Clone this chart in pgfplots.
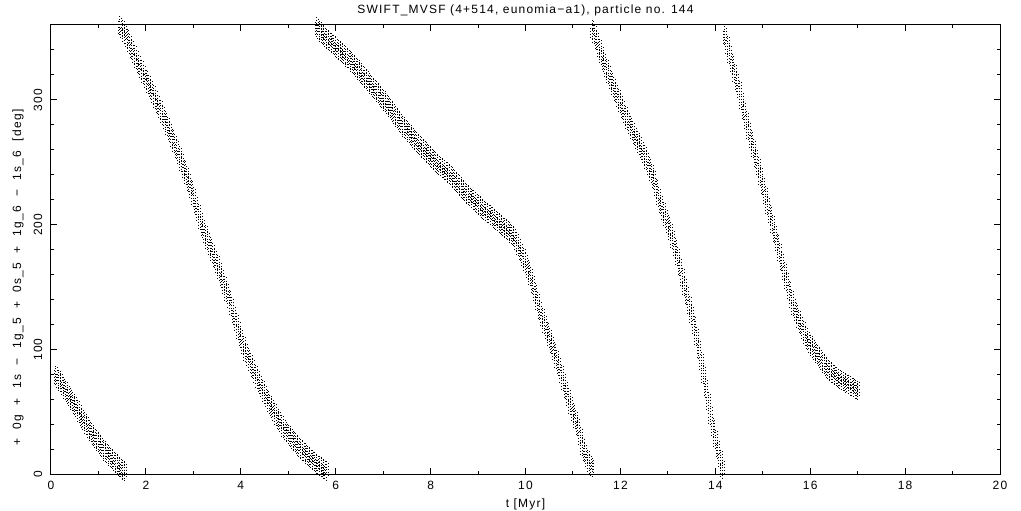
\documentclass[border=0pt]{standalone}
\usepackage{fontspec}
\setmainfont{Liberation Sans}[LetterSpace=10]
\newfontfamily\ylabfont{Liberation Sans}[LetterSpace=10, WordSpace=2.1]
\usepackage{pgfplots}
\usepackage{pgfplotstable}
\pgfplotsset{compat=1.18}

\pgfplotstableread{
x y
0.1 79
0.15 76
0.2 73.5
0.25 70
0.3 67
0.35 64
0.4 61
0.45 58
0.5 55
0.55 52
0.6 48.5
0.65 45
0.7 42
0.75 39
0.8 35.5
0.85 33
0.9 30
0.95 27.5
1.0 25
1.05 22.5
1.1 20
1.15 17.5
1.2 15.5
1.25 13.5
1.3 11.5
1.35 9.5
1.4 7.5
1.45 5.5
1.5 4
1.55 2
}\segA

\pgfplotstableread{
x y
1.4 362
1.45 359
1.5 356
1.55 352.5
1.6 349
1.65 344.5
1.7 340
1.75 336
1.8 332
1.85 328
1.9 324
1.95 320
2.0 316
2.05 312
2.1 308.5
2.15 304
2.2 300
2.25 296
2.3 292
2.35 287.5
2.4 283
2.45 278.5
2.5 274
2.55 269
2.6 264.5
2.65 260
2.7 255
2.75 249.5
2.8 244
2.85 239
2.9 233.5
2.95 228
3.0 222
3.05 215.5
3.1 209
3.15 203
3.2 197
3.25 192
3.3 187
3.35 182
3.4 177
3.45 172.5
3.5 168
3.55 162.5
3.6 157
3.65 151
3.7 145.5
3.75 140
3.8 134
3.85 127.5
3.9 121
3.95 115
4.0 109
4.05 103
4.1 97.5
4.15 93
4.2 89
4.25 84.5
4.3 80
4.35 76
4.4 72
4.45 68
4.5 64
4.55 60
4.6 56
4.65 53
4.7 49.5
4.75 46
4.8 43
4.85 40
4.9 36.5
4.95 34
5.0 32
5.05 29.5
5.1 27
5.15 25
5.2 22.5
5.25 20.5
5.3 18.5
5.35 17
5.4 15
5.45 13
5.5 11.5
5.55 10
5.6 8
5.65 7
5.7 5.5
5.75 4
5.8 2.5
}\segB

\pgfplotstableread{
x y
5.6 358
5.65 355.5
5.7 353
5.75 351
5.8 349
5.85 347
5.9 345.5
5.95 344
6.0 342
6.05 340
6.1 338.5
6.15 337
6.2 335
6.25 333
6.3 331.5
6.35 329
6.4 327
6.45 325
6.5 322.5
6.55 320
6.6 318
6.65 316
6.7 313.5
6.75 311
6.8 309
6.85 307
6.9 304.5
6.95 302
7.0 300
7.05 297.5
7.1 295
7.15 292.5
7.2 290
7.25 287
7.3 284.5
7.35 282
7.4 279.5
7.45 277
7.5 275
7.55 273
7.6 270.5
7.65 268
7.7 266
7.75 264
7.8 262
7.85 260
7.9 258
7.95 256
8.0 254
8.05 252
8.1 250
8.15 248
8.2 246.5
8.25 245
8.3 243.5
8.35 242
8.4 240
8.45 238
8.5 235.5
8.55 233.5
8.6 231.5
8.65 229
8.7 227
8.75 225
8.8 223
8.85 221
8.9 219.5
8.95 218
9.0 216
9.05 214
9.1 212
9.15 210.5
9.2 209
9.25 207.5
9.3 206
9.35 204
9.4 202.5
9.45 201
9.5 199
9.55 197.5
9.6 196
9.65 194
9.7 192
9.75 190
9.8 186
9.85 182
9.9 178
9.95 173.5
10.0 169
10.05 163.5
10.1 158
10.15 152
10.2 145
10.25 138
10.3 131
10.35 125.5
10.4 120
10.45 114.5
10.5 109
10.55 103.5
10.6 98
10.65 92
10.7 86.5
10.75 80
10.8 74
10.85 67.5
10.9 61
10.95 55
11.0 49
11.05 43.5
11.1 38
11.15 30
11.2 22
11.25 17
11.3 12
11.35 8
11.4 5
}\segC

\pgfplotstableread{
x y
11.35 362
11.4 356
11.45 352
11.5 347
11.55 341
11.6 335.5
11.65 330
11.7 325
11.75 320
11.8 315
11.85 310
11.9 305.5
11.95 301
12.0 296.5
12.05 292
12.1 287.5
12.15 283
12.2 279
12.25 275
12.3 271
12.35 267
12.4 263.5
12.45 259.5
12.5 255.5
12.55 251
12.6 246
12.65 241
12.7 236
12.75 229
12.8 222
12.85 216
12.9 210.5
12.95 205
13.0 199.5
13.05 194
13.1 188
13.15 181
13.2 174
13.25 166
13.3 157.5
13.35 150
13.4 143
13.45 135
13.5 127.5
13.55 119
13.6 110
13.65 100
13.7 90
13.75 79.5
13.8 69
13.85 58
13.9 47
13.95 37
14.0 28
14.05 20
14.1 12
14.15 4
}\segD

\pgfplotstableread{
x y
14.15 362
14.2 351
14.25 343.5
14.3 336
14.35 328.5
14.4 321
14.45 314
14.5 307.5
14.55 299
14.6 291
14.65 283
14.7 275
14.75 267.5
14.8 260.5
14.85 253
14.9 246
14.95 238.5
15.0 231
15.05 223
15.1 215
15.15 207.5
15.2 200
15.25 192.5
15.3 185
15.35 177.5
15.4 170
15.45 162
15.5 154.5
15.55 147
15.6 140
15.65 134
15.7 129
15.75 124
15.8 119.5
15.85 115
15.9 110.5
15.95 107
16.0 104
16.05 101
16.1 98
16.15 95.5
16.2 93
16.25 90
16.3 87.5
16.35 85
16.4 83
16.45 81
16.5 79.5
16.55 78
16.6 76.5
16.65 75
16.7 74
16.75 73
16.8 72
16.85 70.5
16.9 69.5
16.95 68
17.0 67
}\segE

\newcommand{\plotseg}[1]{%
  \addplot[only marks, mark=|, mark size=10pt, black, line width=0.7pt,
    mark options={dash pattern=on 0.9pt off 1.7pt}] table[x=x,y=y] {#1};
  \addplot[only marks, mark=|, mark size=7pt, black, line width=0.6pt,
    mark options={xshift=1.8pt, yshift=1.5pt, dash pattern=on 0.9pt off 2.2pt}] table[x=x,y=y] {#1};
  \addplot[only marks, mark=|, mark size=7pt, black, line width=0.6pt,
    mark options={xshift=-1.8pt, yshift=-1.5pt, dash pattern=on 0.9pt off 2.2pt}] table[x=x,y=y] {#1};
}

\begin{document}
\begin{tikzpicture}
\useasboundingbox (0,0) rectangle (1021pt,511pt);
\begin{axis}[
  at={(51pt,36.5pt)}, anchor=south west,
  scale only axis, width=949pt, height=449.5pt,
  xmin=0, xmax=20, ymin=0, ymax=360,
  axis line style={line width=1pt},
  tick align=inside,
  tick style={line width=1pt, black},
  major tick length=6pt, minor tick length=3pt,
  xtick={0,2,...,20}, minor xtick={1,3,...,19},
  ytick={0,100,200,300}, minor ytick={20,40,60,80,120,140,160,180,220,240,260,280,320,340},
  /pgf/number format/assume math mode=true,
  ticklabel style={font=\fontsize{12}{14}\selectfont},
  xticklabel style={anchor=center, yshift=-10.5pt},
  yticklabel style={xshift=-13pt, anchor=center, rotate=90},
  title={SWIFT\_MVSF (4+514, eunomia−a1), particle no. 144},
  title style={at={(axis description cs:0.5,1)}, anchor=center, yshift=9pt, font=\fontsize{12}{14}\selectfont},
  xlabel={t [Myr]},
  xlabel style={at={(axis description cs:0.5,0)}, anchor=center, yshift=-30pt, font=\fontsize{12}{14}\selectfont},
  ylabel={+ 0g + 1s − 1g\_5 + 0s\_5 + 1g\_6 − 1s\_6 [deg]},
  ylabel style={at={(axis description cs:0,0.438)}, anchor=center, yshift=33pt, font=\ylabfont\fontsize{12}{14}\selectfont},
]
\plotseg{\segA}
\plotseg{\segB}
\plotseg{\segC}
\plotseg{\segD}
\plotseg{\segE}
\end{axis}
\end{tikzpicture}
\end{document}
